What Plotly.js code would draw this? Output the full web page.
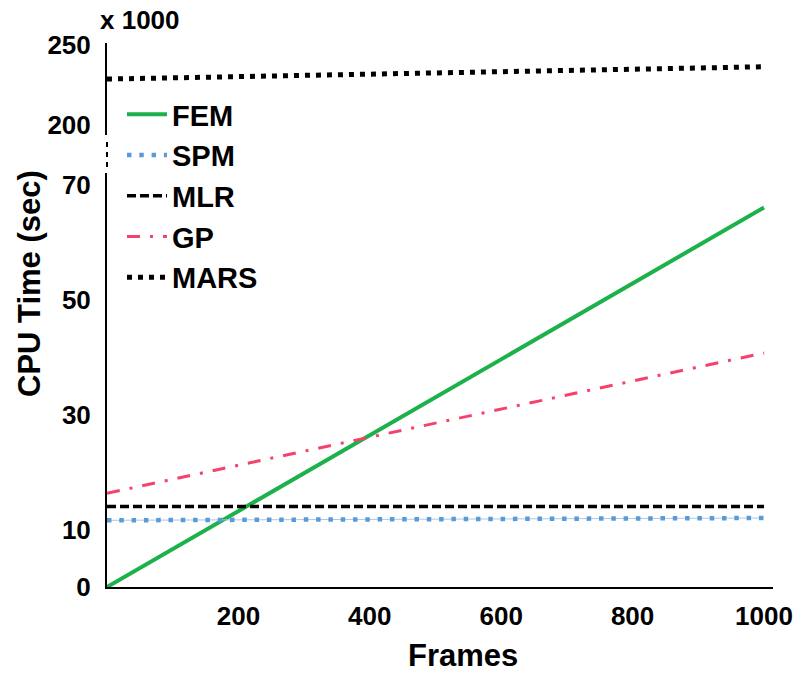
<!DOCTYPE html>
<html>
<head>
<meta charset="utf-8">
<script src="https://cdn.plot.ly/plotly-3.0.1.min.js"></script>
<style>html,body{margin:0;padding:0;background:#fff;}#chart{width:796px;height:675px;}</style>
</head>
<body>
<div id="chart"></div>
<script>
// Data
const frames = [0, 1000];
const femTime = [0, 66];          // sec
const spmTime = [11.6, 12.0];     // sec
const mlrTime = [14.0, 14.0];     // sec
const gpTime = [16.3, 40.7];      // sec
const marsTime = [228.7, 236.4];  // x 1000 sec
const xTicks = [200, 400, 600, 800, 1000];
const yLowTicks = [0, 10, 30, 50, 70];
const yHighTicks = [200, 250];

const FONT = 'Arial, "Liberation Sans", sans-serif';

const traces = [
  {x: frames, y: femTime, name: 'FEM', mode: 'lines', yaxis: 'y',
   line: {color: '#1DB14B', width: 4}},
  {x: frames, y: spmTime, name: 'SPM', mode: 'lines', yaxis: 'y', showlegend: false, hoverinfo: 'skip',
   line: {color: '#A9C8EA', width: 1}},
  {x: frames, y: spmTime, name: 'SPM', mode: 'lines', yaxis: 'y',
   line: {color: '#5B9BD5', width: 4.5, dash: '4.5px,7.8px'}},
  {x: frames, y: mlrTime, name: 'MLR', mode: 'lines', yaxis: 'y',
   line: {color: '#000000', width: 3.5, dash: '9px,4px'}},
  {x: frames, y: gpTime, name: 'GP', mode: 'lines', yaxis: 'y',
   line: {color: '#F5426C', width: 3, dash: '13px,10px,3px,10px'}},
  {x: frames, y: marsTime, name: 'MARS', mode: 'lines', yaxis: 'y2',
   line: {color: '#000000', width: 5, dash: '5px,6px'}}
];

const tickFont = {family: FONT, size: 26, color: '#000', weight: 'bold'};

const layout = {
  width: 796, height: 675,
  margin: {l: 107, r: 23, t: 43, b: 88},
  paper_bgcolor: '#fff', plot_bgcolor: '#fff',
  showlegend: true,
  legend: {x: 0.0225, xanchor: 'left', y: 0.9154, yanchor: 'top',
           font: {family: FONT, size: 29, color: '#000', weight: 'bold'},
           bgcolor: 'rgba(0,0,0,0)', itemwidth: 40, traceorder: 'normal'},
  xaxis: {range: [0, 1013.7], showline: true, linecolor: '#000', linewidth: 2,
          showgrid: false, zeroline: false, tickmode: 'array', tickvals: xTicks,
          ticks: '', tickfont: tickFont, ticklabelstandoff: 5, anchor: 'y'},
  yaxis: {domain: [0, 0.761], range: [0, 72], showline: true, linecolor: '#000', linewidth: 2,
          showgrid: false, zeroline: false, tickmode: 'array', tickvals: yLowTicks,
          ticks: '', tickfont: tickFont, ticklabelstandoff: 9, anchor: 'x'},
  yaxis2: {domain: [0.8309, 1], range: [193.75, 251.25], showline: true, linecolor: '#000', linewidth: 2,
           showgrid: false, zeroline: false, tickmode: 'array', tickvals: yHighTicks,
           ticks: '', tickfont: tickFont, ticklabelstandoff: 9, anchor: 'x'},
  shapes: [
    {type: 'line', xref: 'paper', yref: 'paper', x0: 0, x1: 0, y0: 0.772, y1: 0.8217,
     line: {color: '#000', width: 2, dash: '5px,5px'}}
  ],
  annotations: [
    {text: 'x 1000', xref: 'paper', yref: 'paper', x: 0.0495, y: 1.042, showarrow: false,
     xanchor: 'center', yanchor: 'middle', font: {family: FONT, size: 26, color: '#000', weight: 'bold'}},
    {text: 'CPU Time (sec)', xref: 'paper', yref: 'paper', x: (29 - 107) / 666, y: (587 - 284) / 544,
     textangle: -90, showarrow: false, xanchor: 'center', yanchor: 'middle',
     font: {family: FONT, size: 31, color: '#000', weight: 'bold'}},
    {text: 'Frames', xref: 'paper', yref: 'paper', x: (463 - 107) / 666, y: (587 - 655) / 544,
     showarrow: false, xanchor: 'center', yanchor: 'middle',
     font: {family: FONT, size: 31, color: '#000', weight: 'bold'}}
  ]
};

Plotly.newPlot('chart', traces, layout, {displayModeBar: false, staticPlot: true});
</script>
</body>
</html>
